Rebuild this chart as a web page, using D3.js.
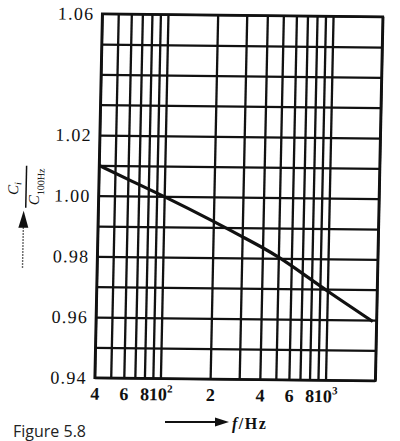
<!DOCTYPE html>
<html><head><meta charset="utf-8">
<script src="https://cdn.jsdelivr.net/npm/d3@7"></script>
<style>html,body{margin:0;padding:0;background:#fff;} svg{display:block}</style>
</head><body>
<svg id="chart" width="400" height="441"></svg>
<script>
// ---- data ----
const freqHz   = [40, 60, 100, 200, 300, 400, 500, 700, 1000, 1900];
const capRatio = [1.010, 1.0055, 1.000, 0.992, 0.987, 0.9835, 0.9805, 0.9752, 0.9693, 0.9595];
const xGrid = [40, 50, 60, 70, 80, 90, 100, 200, 300, 400, 500, 600, 700, 800, 900, 1000, 2000];
const yGrid = [0.94, 0.95, 0.96, 0.97, 0.98, 0.99, 1.00, 1.01, 1.02, 1.03, 1.04, 1.05, 1.06];
const xTickValues = [40, 60, 80, 100, 200, 400, 600, 800, 1000];
const xTickLabels = ["4", "6", "8", "10^2", "2", "4", "6", "8", "10^3"];
const yTickValues = [0.94, 0.96, 0.98, 1.00, 1.02, 1.06];
const yTickLabels = ["0.94", "0.96", "0.98", "1.00", "1.02", "1.06"];

// ---- layout ----
const L = 98.5, R = 379, T = 15.2, B = 379.2;
const svg = d3.select("#chart");
const x = d3.scaleLog().domain([40, 2000]).range([L, R]);
const y = d3.scaleLinear().domain([0.94, 1.06]).range([B, T]);

const g = svg.append("g").attr("transform", "matrix(1,0.0107,-0.0207,1,4.08,-2.56)");

// grid via axes
const gx = g.append("g").attr("transform", `translate(0,${B})`)
  .call(d3.axisBottom(x).tickValues(xGrid).tickSize(-(B - T)).tickFormat(""));
const gy = g.append("g").attr("transform", `translate(${L},0)`)
  .call(d3.axisLeft(y).tickValues(yGrid).tickSize(-(R - L)).tickFormat(""));
[gx, gy].forEach(a => {
  a.select(".domain").remove();
  a.selectAll("line").attr("stroke", "#111").attr("stroke-width", 2.3);
});

g.append("rect").attr("x", L).attr("y", T).attr("width", R - L).attr("height", B - T)
  .attr("fill", "none").attr("stroke", "#111").attr("stroke-width", 2.6);

// curve
const pts = freqHz.map((f, i) => [f, capRatio[i]]);
g.append("path").datum(pts)
  .attr("d", d3.line().x(d => x(d[0])).y(d => y(d[1])).curve(d3.curveBasis))
  .attr("fill", "none").attr("stroke", "#111").attr("stroke-width", 3.2);

// x tick labels
const ax = g.append("g").attr("transform", `translate(0,${B})`)
  .call(d3.axisBottom(x).tickValues(xTickValues).tickSize(0).tickFormat((d, i) => xTickLabels[i]));
ax.select(".domain").remove();
ax.selectAll("text").each(function(d, i) {
  const t = d3.select(this);
  const lab = xTickLabels[i];
  t.text(null).attr("y", 22).attr("dy", null)
    .attr("font-family", "'Liberation Serif', serif").attr("font-size", 18).attr("font-weight", "bold")
    .attr("fill", "#111");
  if (lab.includes("^")) {
    const [base, exp] = lab.split("^");
    t.append("tspan").text(base);
    t.append("tspan").text(exp).attr("dy", -8).attr("font-size", 11);
  } else {
    t.text(lab);
  }
});

// y tick labels
const ay = g.append("g").attr("transform", `translate(${L},0)`)
  .call(d3.axisLeft(y).tickValues(yTickValues).tickSize(0).tickPadding(8).tickFormat((d, i) => yTickLabels[i]));
ay.select(".domain").remove();
ay.selectAll("text")
  .attr("font-family", "'Liberation Serif', serif").attr("font-size", 18)
  .attr("letter-spacing", 1.2).attr("fill", "#111");

// y title (rotated fraction) with arrow
const yt = g.append("g").attr("transform", "translate(26,189) rotate(-90)")
  .attr("font-family", "'Liberation Serif', serif").attr("fill", "#111");
yt.append("line").attr("x1", -21).attr("x2", 21).attr("y1", 0).attr("y2", 0)
  .attr("stroke", "#111").attr("stroke-width", 1.5);
const num = yt.append("text").attr("x", -2).attr("y", -8).attr("text-anchor", "middle");
num.append("tspan").text("C").attr("font-style", "italic").attr("font-size", 15);
num.append("tspan").text("i").attr("font-style", "italic").attr("font-size", 10).attr("dy", 3);
const den = yt.append("text").attr("x", 0).attr("y", 13).attr("text-anchor", "middle");
den.append("tspan").text("C").attr("font-style", "italic").attr("font-size", 15);
den.append("tspan").text("100Hz").attr("font-size", 10).attr("dy", 5);
// arrow
g.append("line").attr("x1", 24).attr("x2", 24).attr("y1", 270).attr("y2", 229)
  .attr("stroke", "#333").attr("stroke-width", 1.4).attr("stroke-dasharray", "1.5,1.5");
g.append("path").attr("d", "M24,213 L29,230 L19,230 Z").attr("fill", "#111");

// x title
svg.append("line").attr("x1", 165).attr("x2", 218).attr("y1", 422).attr("y2", 422)
  .attr("stroke", "#111").attr("stroke-width", 2);
svg.append("path").attr("d", "M229,422 L215,417.5 L215,426.5 Z").attr("fill", "#111");
const xt = svg.append("text").attr("x", 232).attr("y", 429)
  .attr("font-family", "'Liberation Serif', serif").attr("font-size", 16).attr("font-weight", "bold")
  .attr("letter-spacing", 1.5).attr("fill", "#111");
xt.append("tspan").text("f").attr("font-style", "italic");
xt.append("tspan").text("/Hz");

// caption
svg.append("text").attr("x", 13).attr("y", 437).text("Figure 5.8")
  .attr("font-family", "'Open Sans', sans-serif").attr("font-size", 16).attr("fill", "#222");
</script>
</body></html>
